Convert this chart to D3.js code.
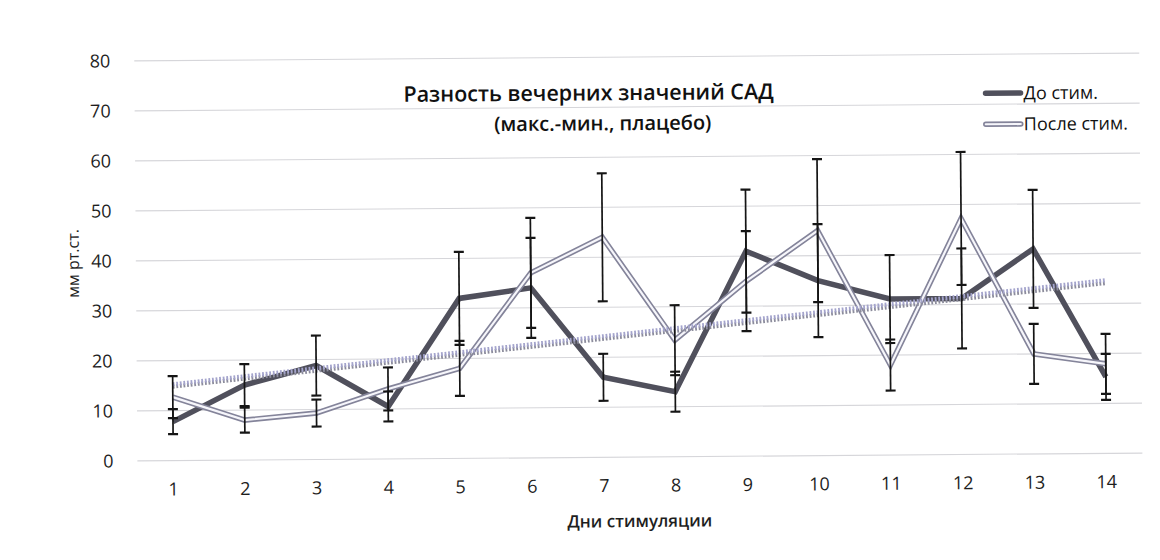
<!DOCTYPE html>
<html>
<head>
<meta charset="utf-8">
<script src="https://cdn.jsdelivr.net/npm/d3@7"></script>
<style>
  html, body { margin: 0; padding: 0; background: #fff; }
  svg { display: block; font-family: "Open Sans", "Noto Sans", sans-serif; }
</style>
</head>
<body>
<svg id="chart" width="1160" height="560"></svg>
<script>
// Days of stimulation
const days = [1, 2, 3, 4, 5, 6, 7, 8, 9, 10, 11, 12, 13, 14];
// Evening SBP spread (max - min), mm Hg, before stimulation
const beforeVals = [7.8, 15, 18.8, 10.5, 32, 34, 16, 13, 41, 35, 31.2, 31.2, 41, 15.3];
const beforeErr  = [2.5, 4.2, 6, 3, 9.3, 10, 4.7, 4, 12.3, 11.3, 8.8, 10, 11.8, 4.6];
// ... and after stimulation
const afterVals  = [12.7, 8, 9.3, 14, 18, 37, 44, 23.3, 35, 45, 18, 47.2, 20, 17.9];
const afterErr   = [4.2, 2.5, 2.7, 4.3, 5.5, 11, 12.8, 7, 10, 14.3, 5.1, 13.3, 6, 6];
const yTicks = [0, 10, 20, 30, 40, 50, 60, 70, 80];
const seriesNames = ["До стим.", "После стим."];
const titleLines = ["Разность вечерних значений САД", "(макс.-мин., плацебо)"];
const xTitle = "Дни стимуляции";
const yTitle = "мм рт.ст.";

const svg = d3.select("#chart");
// the whole sheet sits very slightly tilted
const root = svg.append("g").attr("transform", "rotate(-0.45 638 280)");

const x = d3.scaleBand().domain(days).range([136, 1141]).paddingInner(0).paddingOuter(0);
const cx = d => x(d) + x.bandwidth() / 2;
const y = d3.scaleLinear().domain([0, 80]).range([457, 57]);

// horizontal gridlines
root.append("g")
  .selectAll("line")
  .data(yTicks)
  .join("line")
  .attr("x1", 136).attr("x2", 1141)
  .attr("y1", d => y(d)).attr("y2", d => y(d))
  .attr("stroke", "#d6d6da").attr("stroke-width", 1.2);

// y axis labels
const yAxis = root.append("g")
  .attr("transform", "translate(136,0)")
  .call(d3.axisLeft(y).tickValues(yTicks).tickSize(0).tickPadding(24));
yAxis.select(".domain").remove();
yAxis.selectAll("text")
  .attr("font-size", 18).attr("fill", "#1e1e1e")
  .style("font-family", "'Open Sans', sans-serif");

// x axis labels
const xAxis = root.append("g")
  .attr("transform", `translate(0,${y(0)})`)
  .call(d3.axisBottom(x).tickSize(0).tickPadding(22));
xAxis.select(".domain").remove();
xAxis.selectAll("text")
  .attr("font-size", 18).attr("fill", "#1e1e1e")
  .style("font-family", "'Open Sans', sans-serif");

// axis titles
root.append("text")
  .attr("x", 638).attr("y", 527)
  .attr("text-anchor", "middle")
  .attr("font-size", 17).attr("font-weight", 600).attr("fill", "#1e1e1e")
  .text(xTitle);
root.append("text")
  .attr("transform", "translate(79,259) rotate(-90)")
  .attr("text-anchor", "middle")
  .attr("font-size", 16).attr("fill", "#1e1e1e")
  .text(yTitle);

// chart title
root.append("text")
  .attr("x", 590).attr("y", 100)
  .attr("text-anchor", "middle")
  .attr("font-size", 21.5).attr("font-weight", 600).attr("fill", "#111")
  .text(titleLines[0]);
root.append("text")
  .attr("x", 604).attr("y", 130)
  .attr("text-anchor", "middle")
  .attr("font-size", 20).attr("font-weight", 600).attr("fill", "#111")
  .text(titleLines[1]);

const line = d3.line().x(d => cx(d.day)).y(d => y(d.v));
const toPts = vals => days.map((d, i) => ({ day: d, v: vals[i] }));

// "before" series: thick dark line
root.append("path")
  .datum(toPts(beforeVals))
  .attr("d", line)
  .attr("fill", "none").attr("stroke", "#50505c").attr("stroke-width", 5.5)
  .attr("stroke-linejoin", "miter");

// "after" series: double outline line
const afterPath = root.append("g");
afterPath.append("path")
  .datum(toPts(afterVals))
  .attr("d", line)
  .attr("fill", "none").attr("stroke", "#84849a").attr("stroke-width", 5.5);
afterPath.append("path")
  .datum(toPts(afterVals))
  .attr("d", line)
  .attr("fill", "none").attr("stroke", "#f6f6fb").attr("stroke-width", 2.2);

// linear trend lines (least squares)
function trend(vals) {
  const n = vals.length;
  const mx = d3.mean(days), my = d3.mean(vals);
  let sxy = 0, sxx = 0;
  days.forEach((d, i) => { sxy += (d - mx) * (vals[i] - my); sxx += (d - mx) * (d - mx); });
  const b = sxy / sxx, a = my - b * mx;
  return [days[0], days[n - 1]].map(d => ({ day: d, v: a + b * d }));
}
root.append("path")
  .datum(trend(beforeVals))
  .attr("d", line)
  .attr("fill", "none").attr("stroke", "#8c8c9c").attr("stroke-width", 4)
  .attr("stroke-dasharray", "1.8 1.8");
root.append("path")
  .datum(trend(afterVals))
  .attr("d", line)
  .attr("fill", "none").attr("stroke", "#a4a4cc").attr("stroke-width", 4)
  .attr("stroke-dasharray", "1.8 1.8");

// error bars for both series
function errorBars(vals, errs) {
  const g = root.append("g").attr("stroke", "#151515").attr("stroke-width", 1.7);
  const pts = days.map((d, i) => ({ day: d, lo: vals[i] - errs[i], hi: vals[i] + errs[i] }));
  g.selectAll(".stem").data(pts).join("line")
    .attr("x1", d => cx(d.day)).attr("x2", d => cx(d.day))
    .attr("y1", d => y(d.lo)).attr("y2", d => y(d.hi));
  g.selectAll(".capHi").data(pts).join("line")
    .attr("x1", d => cx(d.day) - 5).attr("x2", d => cx(d.day) + 5)
    .attr("y1", d => y(d.hi)).attr("y2", d => y(d.hi)).attr("stroke-width", 2.2);
  g.selectAll(".capLo").data(pts).join("line")
    .attr("x1", d => cx(d.day) - 5).attr("x2", d => cx(d.day) + 5)
    .attr("y1", d => y(d.lo)).attr("y2", d => y(d.lo)).attr("stroke-width", 2.2);
}
errorBars(beforeVals, beforeErr);
errorBars(afterVals, afterErr);

// legend
const legend = root.append("g");
legend.append("line")
  .attr("x1", 987).attr("x2", 1022).attr("y1", 96).attr("y2", 96)
  .attr("stroke", "#50505c").attr("stroke-width", 5.5).attr("stroke-linecap", "round");
legend.append("line")
  .attr("x1", 987).attr("x2", 1022).attr("y1", 127).attr("y2", 127)
  .attr("stroke", "#84849a").attr("stroke-width", 5.5).attr("stroke-linecap", "round");
legend.append("line")
  .attr("x1", 987).attr("x2", 1022).attr("y1", 127).attr("y2", 127)
  .attr("stroke", "#f6f6fb").attr("stroke-width", 2.2).attr("stroke-linecap", "round");
legend.selectAll("text").data(seriesNames).join("text")
  .attr("x", 1025).attr("y", (d, i) => 96 + i * 31)
  .attr("dy", "0.35em")
  .attr("font-size", 18).attr("font-weight", 500).attr("fill", "#111")
  .text(d => d);
</script>
</body>
</html>
